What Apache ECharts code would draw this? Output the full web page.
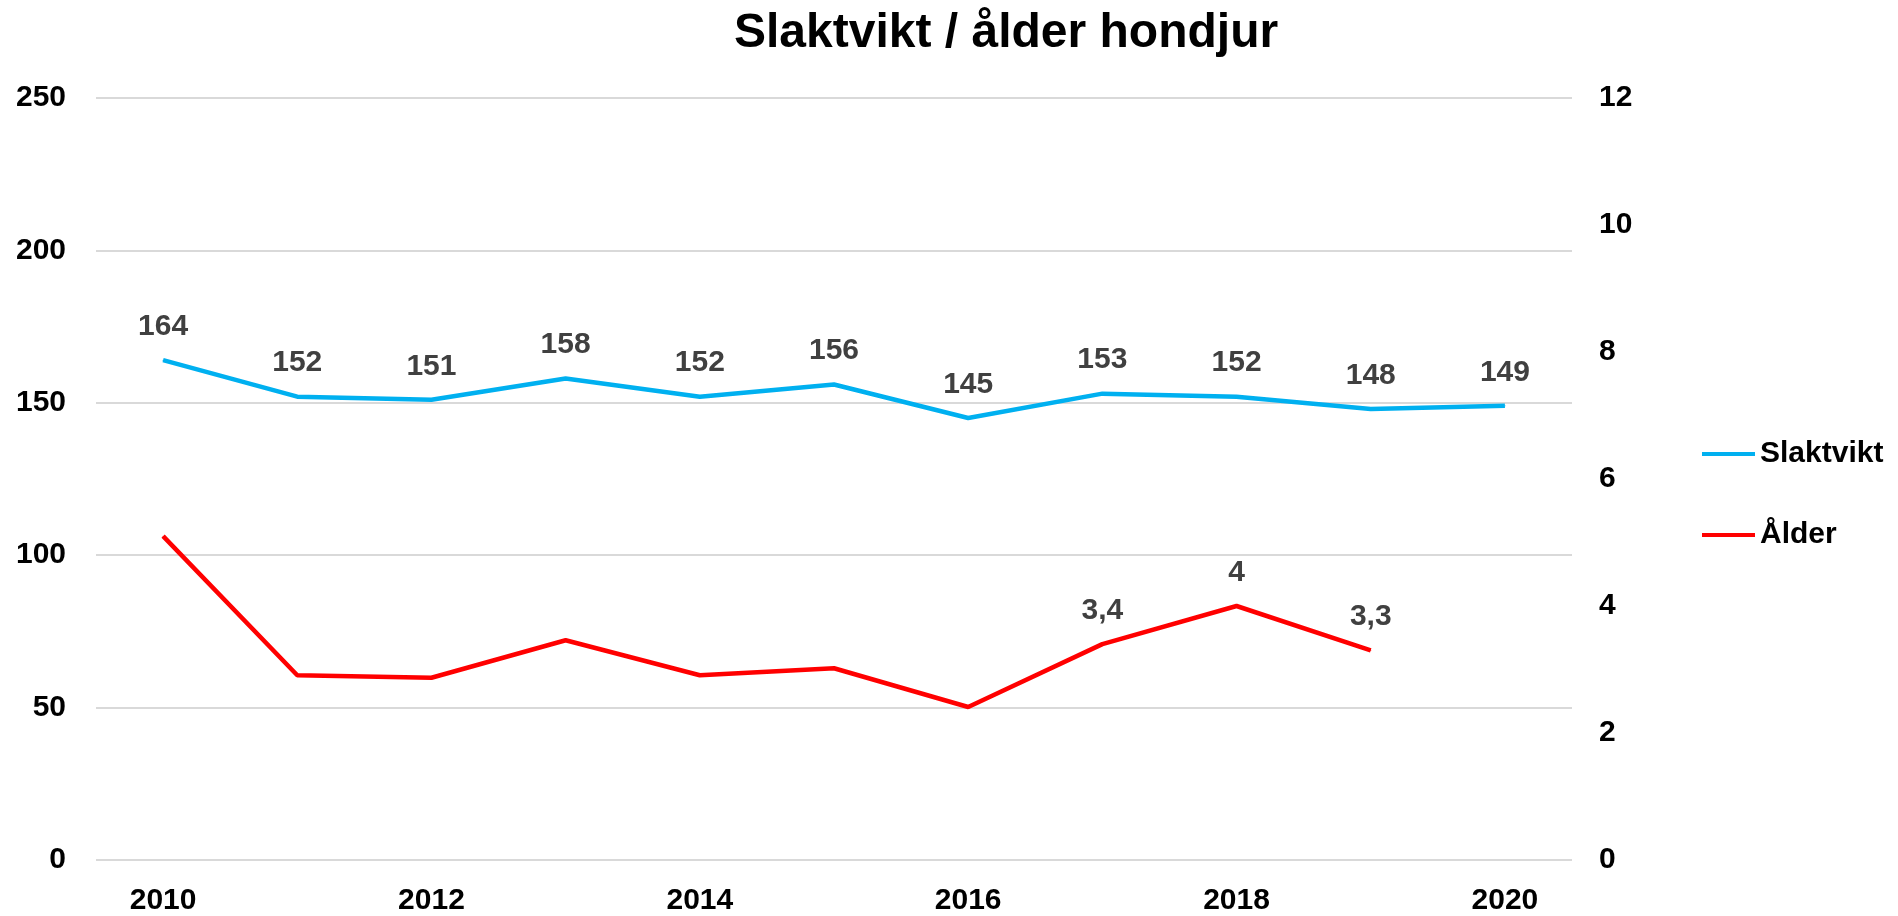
<!DOCTYPE html>
<html>
<head>
<meta charset="utf-8">
<script src="https://cdn.jsdelivr.net/npm/echarts@6/dist/echarts.min.js"></script>
<style>
html,body{margin:0;padding:0;background:#fff;}
#chart{width:1898px;height:916px;}
</style>
</head>
<body>
<div id="chart"></div>
<script>
const years = ['2010','2011','2012','2013','2014','2015','2016','2017','2018','2019','2020'];
const slaktvikt = [164, 152, 151, 158, 152, 156, 145, 153, 152, 148, 149];
const alder = [5.1, 2.91, 2.87, 3.46, 2.91, 3.02, 2.41, 3.4, 4, 3.3, null];
const alderLabelled = [false, false, false, false, false, false, false, true, true, true, false];
const leftTicks = {min: 0, max: 250, interval: 50};
const rightTicks = {min: 0, max: 12, interval: 2};

const FONT = '"Liberation Sans", Arial, sans-serif';
const labelStyle = {fontFamily: FONT, fontWeight: 'bold', fontSize: 30, color: '#404040'};

const alderData = alder.map((v, i) => ({
  value: v,
  label: {show: alderLabelled[i]}
}));

const chart = echarts.init(document.getElementById('chart'), null, {renderer: 'canvas'});
chart.setOption({
  backgroundColor: '#ffffff',
  animation: false,
  title: {
    text: 'Slaktvikt / ålder hondjur',
    left: 729,
    top: 5,
    textStyle: {fontFamily: FONT, fontWeight: 'bold', fontSize: 48, color: '#000'}
  },
  legend: {
    orient: 'vertical',
    left: 1697,
    top: 434,
    itemWidth: 53,
    itemHeight: 4,
    itemGap: 51,
    icon: 'rect',
    textStyle: {fontFamily: FONT, fontWeight: 'bold', fontSize: 30, color: '#000'},
    data: ['Slaktvikt', 'Ålder']
  },
  grid: {left: 96, right: 326, top: 98, bottom: 54, containLabel: false},
  xAxis: {
    type: 'category',
    data: years,
    boundaryGap: true,
    axisLine: {show: false},
    axisTick: {show: false},
    axisLabel: {interval: 1, margin: 26, fontFamily: FONT, fontWeight: 'bold', fontSize: 30, color: '#000'}
  },
  yAxis: [
    {
      type: 'value',
      min: leftTicks.min, max: leftTicks.max, interval: leftTicks.interval,
      axisLine: {show: false}, axisTick: {show: false},
      axisLabel: {margin: 30, fontFamily: FONT, fontWeight: 'bold', fontSize: 30, color: '#000'},
      splitLine: {show: true, lineStyle: {color: '#d9d9d9', width: 2}}
    },
    {
      type: 'value',
      position: 'right',
      min: rightTicks.min, max: rightTicks.max, interval: rightTicks.interval,
      axisLine: {show: false}, axisTick: {show: false},
      axisLabel: {margin: 27, fontFamily: FONT, fontWeight: 'bold', fontSize: 30, color: '#000'},
      splitLine: {show: false}
    }
  ],
  series: [
    {
      name: 'Slaktvikt',
      type: 'line',
      yAxisIndex: 0,
      data: slaktvikt,
      symbol: 'circle',
      symbolSize: 1,
      showSymbol: true,
      color: '#00b0f0',
      itemStyle: {color: '#00b0f0'},
      lineStyle: {width: 4.5, color: '#00b0f0'},
      label: Object.assign({show: true, position: 'top', distance: 18}, labelStyle)
    },
    {
      name: 'Ålder',
      type: 'line',
      yAxisIndex: 1,
      data: alderData,
      symbol: 'circle',
      symbolSize: 1,
      showSymbol: true,
      color: '#ff0000',
      itemStyle: {color: '#ff0000'},
      lineStyle: {width: 4.5, color: '#ff0000'},
      label: Object.assign({
        show: false, position: 'top', distance: 18,
        formatter: p => String(p.value).replace('.', ',')
      }, labelStyle)
    }
  ]
});
</script>
</body>
</html>
